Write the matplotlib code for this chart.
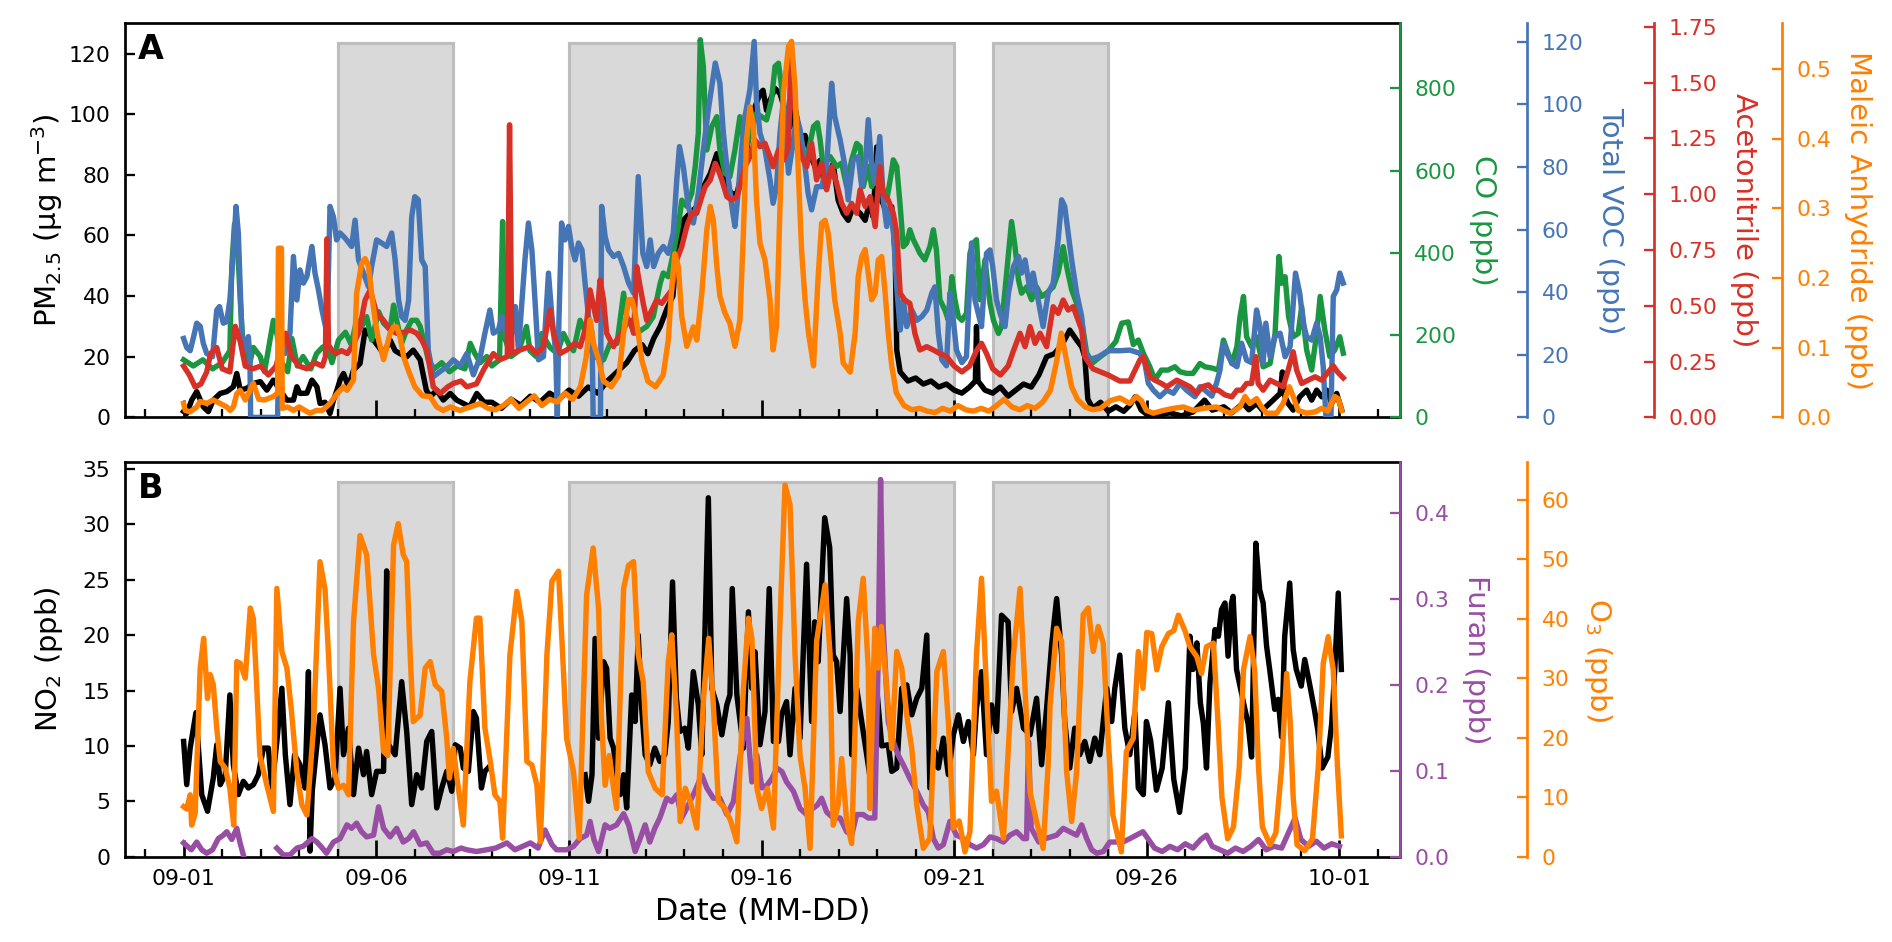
import numpy as np
import pandas as pd
import matplotlib
matplotlib.use('Agg')
import matplotlib.pyplot as plt
import matplotlib.dates as mdates

nan = np.nan
start = pd.Timestamp('2023-09-01')

# ---- panel A : (days after 09-01, value) ----
pm25 = [(0.0, 2), (0.08, 1.3), (0.21, 5.7), (0.34, 8.5), (0.51, 3.5), (0.64, 1.9), (0.77, 5.7), (0.95, 7.9),
        (1.12, 8.5), (1.29, 10.1), (1.38, 14.5), (1.47, 9), (1.64, 9.6), (1.81, 11.2), (1.99, 11.8), (2.16, 9),
        (2.33, 12.3), (2.5, 9), (2.68, 5.7), (2.85, 5.7), (2.94, 10.1), (3.02, 7.9), (3.2, 8), (3.33, 12.3),
        (3.46, 10.1), (3.54, 4.6), (3.67, 5), (3.8, 1.3), (3.89, 5.7), (3.98, 9), (4.06, 12.3), (4.15, 14.5),
        (4.28, 10.1), (4.41, 15.6), (4.58, 17.8), (4.71, 28.8), (4.8, 27.7), (4.93, 25.5), (5.06, 23.3),
        (5.19, 21), (5.36, 25.5), (5.49, 22), (5.62, 21), (5.79, 20), (5.96, 22.2), (6.14, 19), (6.3, 9),
        (6.4, 6.8), (6.57, 9), (6.74, 5.7), (6.92, 7.9), (7.09, 5.7), (7.26, 4.6), (7.43, 3.5), (7.61, 7.9),
        (7.8, 5), (8.0, 5), (8.25, 3), (8.5, 6), (8.75, 4), (9.0, 7), (9.25, 5), (9.5, 8), (9.75, 6), (10.0, 9),
        (10.25, 7), (10.5, 10), (10.75, 8), (11.0, 12), (11.25, 15), (11.5, 18), (11.7, 22), (11.9, 24),
        (12.05, 21), (12.2, 26), (12.37, 30), (12.55, 36), (12.7, 40), (12.8, 55), (12.97, 65), (13.14, 67.3),
        (13.32, 69.5), (13.49, 76), (13.67, 80.4), (13.84, 87), (13.97, 82.6), (14.1, 76), (14.23, 73.8),
        (14.36, 73.8), (14.49, 80.4), (14.61, 88.1), (14.7, 94.7), (14.83, 102.4), (14.96, 106.8),
        (15.04, 107.9), (15.13, 101.3), (15.22, 104.6), (15.35, 108.5), (15.48, 106.8), (15.61, 101.3),
        (15.74, 95.8), (15.87, 102.4), (16.0, 92.5), (16.13, 93), (16.26, 87), (16.39, 82.6), (16.52, 84.8),
        (16.65, 76), (16.86, 83.7), (16.99, 71.6), (17.12, 67.3), (17.25, 65), (17.38, 69.5), (17.56, 67.3),
        (17.69, 65), (17.82, 71.6), (17.9, 66), (17.99, 89.2), (18.05, 72), (18.12, 71.6), (18.25, 67.3),
        (18.38, 69.5), (18.47, 54), (18.51, 22.2), (18.6, 15), (18.8, 12), (19.0, 13), (19.2, 11), (19.4, 12),
        (19.6, 10), (19.8, 11), (20.0, 9), (20.2, 8), (20.4, 10), (20.55, 12), (20.58, 30), (20.62, 12),
        (20.8, 9), (21.0, 8), (21.2, 10), (21.4, 7), (21.6, 9), (21.8, 11), (22.0, 10), (22.2, 14), (22.4, 20),
        (22.6, 21), (22.8, 24), (23.0, 28.8), (23.18, 25.5), (23.31, 23.3), (23.39, 20), (23.47, 6), (23.6, 3),
        (23.8, 5), (24.0, 2), (24.2, 3.5), (24.4, 2), (24.56, 4), (24.7, 6.8), (24.85, 2.5), (25.0, 1),
        (25.3, 0.8), (25.6, 1.5), (25.9, 0.5), (26.2, 1.8), (26.5, 5.7), (26.7, 2.4), (27.0, 3.5), (27.2, 1.5),
        (27.5, 4.6), (27.65, 2.5), (27.85, 4.6), (28.0, 2.4), (28.28, 5.7), (28.46, 7.9), (28.52, 15),
        (28.58, 7), (28.67, 4.6), (28.8, 2.4), (28.97, 6.8), (29.15, 9), (29.28, 5.7), (29.41, 9), (29.54, 6.8),
        (29.67, 9), (29.8, 4.6), (29.93, 7.9), (30.06, 2.4)]

co = [(0, 140), (0.25, 125), (0.5, 140), (0.75, 118), (1.0, 133), (1.2, 162), (1.25, 367), (1.32, 470),
      (1.38, 456), (1.47, 286), (1.55, 162), (1.7, 125), (1.81, 170), (1.99, 148), (2.1, 111), (2.33, 236),
      (2.42, 204), (2.55, 133), (2.7, 111), (2.81, 192), (2.95, 125), (3.1, 148), (3.3, 118), (3.45, 155),
      (3.6, 170), (3.72, 177), (3.85, 133), (4.02, 188), (4.2, 207), (4.35, 177), (4.49, 236), (4.62, 221),
      (4.75, 245), (4.88, 188), (5.06, 257), (5.19, 229), (5.36, 213), (5.45, 273), (5.53, 236), (5.66, 180),
      (5.79, 213), (5.92, 236), (6.05, 236), (6.14, 221), (6.27, 172), (6.35, 140), (6.5, 118), (6.7, 133),
      (6.9, 111), (7.1, 125), (7.3, 118), (7.44, 180), (7.56, 155), (7.7, 133), (7.87, 148), (8.0, 125),
      (8.2, 140), (8.28, 476), (8.34, 192), (8.5, 148), (8.7, 162), (8.9, 221), (8.99, 162), (9.15, 148),
      (9.3, 204), (9.51, 170), (9.7, 155), (9.86, 204), (10.0, 177), (10.12, 162), (10.29, 236), (10.45, 204),
      (10.64, 148), (10.9, 140), (11.07, 180), (11.25, 180), (11.42, 302), (11.5, 245), (11.63, 221),
      (11.76, 204), (11.89, 213), (12.02, 221), (12.19, 245), (12.37, 326), (12.45, 351), (12.58, 342),
      (12.71, 399), (12.84, 464), (12.93, 528), (13.06, 513), (13.19, 545), (13.28, 610), (13.36, 691),
      (13.41, 918), (13.49, 853), (13.58, 650), (13.71, 707), (13.84, 731), (13.92, 650), (14.05, 593),
      (14.18, 585), (14.31, 650), (14.44, 731), (14.53, 675), (14.61, 658), (14.75, 707), (14.87, 739),
      (15.0, 731), (15.13, 723), (15.26, 772), (15.35, 853), (15.44, 861), (15.52, 804), (15.61, 731),
      (15.7, 658), (15.85, 664), (16.0, 642), (16.17, 626), (16.35, 707), (16.45, 716), (16.52, 675),
      (16.6, 610), (16.78, 634), (16.95, 610), (17.08, 618), (17.21, 561), (17.34, 626), (17.47, 666),
      (17.56, 658), (17.64, 561), (17.77, 610), (17.86, 561), (17.99, 593), (18.12, 561), (18.25, 528),
      (18.34, 577), (18.42, 626), (18.51, 610), (18.6, 513), (18.68, 415), (18.77, 424), (18.85, 456),
      (18.94, 432), (19.03, 415), (19.11, 399), (19.24, 383), (19.37, 415), (19.46, 456), (19.54, 407),
      (19.63, 286), (19.76, 261), (19.85, 236), (19.94, 342), (20.02, 286), (20.11, 245), (20.2, 236),
      (20.32, 253), (20.41, 399), (20.5, 424), (20.58, 432), (20.67, 286), (20.8, 383), (20.93, 277),
      (21.02, 236), (21.15, 204), (21.23, 221), (21.32, 310), (21.41, 399), (21.49, 476), (21.58, 415),
      (21.67, 334), (21.75, 302), (21.88, 317), (22.01, 286), (22.14, 317), (22.27, 294), (22.4, 302),
      (22.57, 317), (22.7, 351), (22.83, 415), (22.92, 367), (23.05, 310), (23.18, 277), (23.31, 236),
      (23.44, 156), (23.6, 133), (23.8, 148), (24.0, 162), (24.2, 185), (24.35, 229), (24.52, 232),
      (24.65, 177), (24.78, 188), (24.91, 156), (25.08, 123), (25.21, 91), (25.38, 115), (25.55, 115),
      (25.73, 123), (25.86, 111), (26.03, 107), (26.2, 107), (26.38, 131), (26.51, 123), (26.69, 120),
      (26.86, 115), (26.99, 188), (27.08, 164), (27.21, 131), (27.34, 172), (27.42, 245), (27.51, 294),
      (27.59, 196), (27.72, 172), (27.85, 196), (28.02, 123), (28.2, 131), (28.33, 204), (28.43, 391),
      (28.5, 326), (28.59, 342), (28.68, 245), (28.8, 196), (28.93, 204), (29.02, 269), (29.15, 164),
      (29.28, 115), (29.41, 204), (29.5, 294), (29.62, 213), (29.75, 148), (29.88, 164), (30.01, 196),
      (30.1, 156)]

voc = [(0.0, 25.2), (0.08, 22.3), (0.17, 21.3), (0.26, 25.8), (0.34, 30.1), (0.43, 29.1), (0.51, 23.7),
       (0.6, 20.4), (0.75, 19.4), (0.86, 34.3), (0.93, 35.4), (1.03, 30.1), (1.12, 30.6), (1.2, 37.5),
       (1.29, 52.4), (1.36, 67.4), (1.42, 58.9), (1.51, 26.9), (1.6, 21.5), (1.68, 25.8), (1.72, 19.4),
       (1.74, 0), (2.44, 0), (2.47, 24.3), (2.5, 26.9), (2.63, 20.4), (2.76, 26.9), (2.85, 51.4), (2.94, 37.5),
       (3.02, 47.1), (3.11, 42.9), (3.2, 45), (3.33, 54.6), (3.41, 46.1), (3.5, 40.7), (3.59, 34.3),
       (3.72, 26.9), (3.8, 67.4), (3.89, 64), (3.97, 56.7), (4.06, 58.9), (4.15, 57.8), (4.23, 56.7),
       (4.36, 54.6), (4.45, 63), (4.54, 50.3), (4.67, 46.1), (4.8, 41.7), (4.88, 48.2), (5.01, 56.7),
       (5.14, 55.7), (5.27, 54.6), (5.4, 58.9), (5.49, 50.3), (5.58, 37.5), (5.66, 32.2), (5.75, 31),
       (5.84, 37.5), (5.92, 64), (6.0, 70.5), (6.09, 69.5), (6.18, 50.3), (6.27, 48.2), (6.35, 21.5),
       (6.48, 13), (6.65, 14.6), (6.83, 16.2), (7.0, 18.4), (7.18, 16.5), (7.35, 20.4), (7.52, 13.6),
       (7.7, 19.4), (7.82, 26.9), (7.95, 34.3), (8.04, 26.9), (8.17, 27.9), (8.26, 32.2), (8.4, 25.2),
       (8.47, 22.6), (8.61, 35.4), (8.69, 21.5), (8.86, 50.4), (8.95, 62.1), (9.04, 53.4), (9.12, 37.5),
       (9.21, 18.4), (9.34, 19.4), (9.47, 46.1), (9.56, 32.2), (9.66, 20.4), (9.7, 0), (9.74, 30),
       (9.81, 62.1), (9.9, 56.7), (9.99, 61), (10.07, 54.6), (10.16, 50.3), (10.25, 55.7), (10.34, 53.5),
       (10.42, 42.9), (10.51, 32.2), (10.6, 26.9), (10.63, 0), (10.82, 0), (10.85, 67.4), (10.94, 57.8),
       (11.03, 53.5), (11.16, 51.4), (11.29, 52.4), (11.42, 48.2), (11.55, 42.9), (11.68, 39.7), (11.8, 76.9),
       (11.92, 52.4), (12.02, 48.2), (12.11, 56.7), (12.2, 48.2), (12.32, 52.4), (12.45, 54.6), (12.58, 52.4),
       (12.71, 58.9), (12.8, 75.9), (12.87, 86.5), (12.97, 80.1), (13.1, 67.4), (13.23, 62.1), (13.36, 71.6),
       (13.49, 85.5), (13.62, 98.3), (13.8, 113.2), (13.92, 106.7), (14.01, 90.8), (14.1, 80.1), (14.23, 67.4),
       (14.31, 61), (14.4, 72.8), (14.49, 86.5), (14.57, 96.1), (14.7, 104.8), (14.81, 120.1), (14.87, 101.5),
       (14.96, 90.8), (15.09, 85.5), (15.22, 75.9), (15.3, 68.4), (15.39, 73.7), (15.48, 90.8), (15.57, 101.5),
       (15.7, 78), (15.83, 88.7), (15.91, 96.1), (16.0, 92), (16.08, 85.5), (16.21, 71.6), (16.3, 66.3),
       (16.43, 73.7), (16.56, 73.7), (16.69, 80.1), (16.82, 106.7), (16.9, 96.1), (17.04, 88.7), (17.17, 80.1),
       (17.25, 69.5), (17.38, 82.3), (17.51, 83.3), (17.6, 73.7), (17.69, 80.1), (17.77, 95.1), (17.86, 80.1),
       (17.95, 74.8), (18.07, 89.7), (18.16, 69.5), (18.25, 61), (18.34, 67.4), (18.42, 59.9), (18.51, 41.7),
       (18.6, 27.9), (18.68, 37.5), (18.77, 29), (18.9, 34.3), (19.03, 31), (19.16, 32.2), (19.29, 34.3),
       (19.42, 39.7), (19.5, 41.7), (19.59, 26.9), (19.68, 18.4), (19.8, 16.5), (19.89, 39.7), (19.98, 31),
       (20.06, 21.5), (20.2, 17.5), (20.32, 19.4), (20.45, 55.7), (20.54, 37.5), (20.71, 29), (20.84, 52.4),
       (20.93, 53.5), (21.0, 48.2), (21.1, 37.5), (21.19, 33.3), (21.32, 29), (21.41, 39.7), (21.54, 48.2),
       (21.67, 51.4), (21.75, 46.1), (21.84, 50.3), (21.97, 40.7), (22.05, 46.1), (22.18, 37.5), (22.31, 29),
       (22.44, 39.7), (22.57, 42.9), (22.7, 56.7), (22.79, 69.5), (22.87, 67.4), (22.96, 58.9), (23.05, 50.3),
       (23.18, 39.7), (23.31, 32.2), (23.39, 21.5), (23.5, 18.4), (23.75, 19.4), (24.0, 21.3), (24.3, 21.3),
       (24.56, 21.5), (24.82, 20.5), (24.95, 17.3), (25.04, 10.9), (25.17, 8.7), (25.34, 6.6), (25.52, 8.7),
       (25.69, 7.7), (25.86, 10.9), (26.03, 8.7), (26.25, 6.6), (26.38, 9.8), (26.51, 8.7), (26.69, 6.8),
       (26.81, 10.9), (26.9, 15.1), (26.99, 23.7), (27.08, 20.5), (27.21, 17.3), (27.34, 16.2), (27.46, 23.7),
       (27.59, 18.3), (27.72, 17.5), (27.85, 34.3), (27.94, 29), (28.02, 17.3), (28.09, 30.1), (28.2, 19.4),
       (28.33, 25.8), (28.46, 26.9), (28.59, 19.4), (28.72, 22.6), (28.86, 46.1), (28.97, 39.7), (29.06, 30.1),
       (29.15, 25.8), (29.28, 24.7), (29.41, 30.1), (29.5, 25.8), (29.58, 16.2), (29.65, 0), (29.78, 0),
       (29.84, 38.6), (29.93, 40.7), (30.01, 46.1), (30.1, 42.9)]

acetonitrile = [(0, 0.23), (0.15, 0.19), (0.3, 0.136), (0.45, 0.15), (0.6, 0.204), (0.7, 0.286), (0.86, 0.313),
                (1.0, 0.218), (1.2, 0.204), (1.34, 0.408), (1.47, 0.34), (1.6, 0.23), (1.8, 0.218), (2.0, 0.23),
                (2.2, 0.19), (2.4, 0.23), (2.5, 0.299), (2.65, 0.377), (2.8, 0.272), (3.0, 0.23), (3.2, 0.218),
                (3.4, 0.245), (3.6, 0.23), (3.68, 0.272), (3.72, 0.80), (3.76, 0.326), (3.85, 0.299),
                (3.95, 0.286), (4.1, 0.299), (4.25, 0.286), (4.4, 0.326), (4.55, 0.381), (4.71, 0.526),
                (4.84, 0.571), (5.01, 0.466), (5.19, 0.435), (5.36, 0.392), (5.53, 0.377), (5.71, 0.381),
                (5.88, 0.392), (6.05, 0.377), (6.18, 0.347), (6.31, 0.302), (6.48, 0.137), (6.66, 0.107),
                (6.85, 0.136), (7.0, 0.152), (7.2, 0.163), (7.35, 0.137), (7.6, 0.15), (7.8, 0.218),
                (8.04, 0.286), (8.2, 0.258), (8.4, 0.272), (8.46, 1.311), (8.52, 0.286), (8.73, 0.302),
                (8.99, 0.317), (9.16, 0.286), (9.34, 0.317), (9.51, 0.481), (9.6, 0.377), (9.77, 0.286),
                (9.94, 0.302), (10.16, 0.332), (10.29, 0.317), (10.45, 0.408), (10.55, 0.571), (10.64, 0.496),
                (10.72, 0.435), (10.81, 0.616), (10.9, 0.526), (10.98, 0.377), (11.16, 0.317), (11.24, 0.347),
                (11.37, 0.377), (11.5, 0.422), (11.59, 0.435), (11.68, 0.377), (11.76, 0.676), (11.85, 0.585),
                (11.93, 0.511), (12.02, 0.435), (12.15, 0.481), (12.28, 0.526), (12.41, 0.511), (12.54, 0.541),
                (12.67, 0.571), (12.8, 0.706), (12.93, 0.766), (13.06, 0.855), (13.19, 0.915), (13.32, 0.915),
                (13.45, 0.989), (13.54, 1.034), (13.67, 1.064), (13.8, 1.138), (13.88, 1.108), (13.97, 1.064),
                (14.1, 0.989), (14.23, 0.974), (14.36, 0.989), (14.44, 1.034), (14.57, 1.123), (14.7, 1.168),
                (14.83, 1.243), (14.96, 1.213), (15.09, 1.228), (15.22, 1.168), (15.3, 1.123), (15.44, 1.198),
                (15.57, 1.153), (15.7, 1.213), (15.77, 1.659), (15.82, 1.496), (15.93, 1.243), (16.04, 1.168),
                (16.17, 1.123), (16.3, 1.228), (16.43, 1.064), (16.56, 1.138), (16.69, 1.02), (16.82, 1.123),
                (16.95, 1.049), (17.08, 0.959), (17.21, 0.915), (17.34, 0.959), (17.47, 0.915), (17.56, 1.02),
                (17.69, 0.945), (17.82, 0.989), (17.95, 0.855), (18.07, 1.123), (18.16, 1.004), (18.29, 0.974),
                (18.42, 0.915), (18.51, 0.826), (18.6, 0.556), (18.72, 0.526), (18.85, 0.511), (18.98, 0.377),
                (19.11, 0.302), (19.29, 0.317), (19.46, 0.302), (19.63, 0.286), (19.81, 0.272), (20.0, 0.23),
                (20.2, 0.204), (20.4, 0.23), (20.58, 0.299), (20.71, 0.332), (20.84, 0.286), (21.0, 0.218),
                (21.2, 0.19), (21.4, 0.23), (21.54, 0.299), (21.71, 0.377), (21.84, 0.317), (21.97, 0.407),
                (22.1, 0.332), (22.23, 0.377), (22.4, 0.317), (22.57, 0.496), (22.7, 0.466), (22.83, 0.526),
                (22.96, 0.481), (23.09, 0.496), (23.22, 0.435), (23.31, 0.392), (23.39, 0.272), (23.6, 0.218),
                (23.8, 0.204), (24.0, 0.19), (24.3, 0.163), (24.56, 0.163), (24.82, 0.257), (24.91, 0.272),
                (24.99, 0.227), (25.08, 0.182), (25.21, 0.167), (25.38, 0.152), (25.52, 0.137), (25.65, 0.152),
                (25.78, 0.167), (25.95, 0.152), (26.12, 0.137), (26.3, 0.107), (26.43, 0.137), (26.6, 0.146),
                (26.73, 0.122), (26.86, 0.122), (27.03, 0.101), (27.21, 0.092), (27.34, 0.122), (27.46, 0.122),
                (27.59, 0.152), (27.72, 0.152), (27.83, 0.272), (27.89, 0.152), (28.02, 0.122), (28.2, 0.167),
                (28.37, 0.152), (28.54, 0.137), (28.67, 0.212), (28.8, 0.294), (28.89, 0.212), (29.02, 0.152),
                (29.19, 0.167), (29.37, 0.182), (29.54, 0.167), (29.84, 0.231), (29.95, 0.204), (30.1, 0.177)]

maleic = [(0, 0.020), (0.04, 0.010), (0.17, 0.008), (0.34, 0.015), (0.43, 0.023), (0.6, 0.020), (0.77, 0.025),
          (0.95, 0.020), (1.12, 0.015), (1.21, 0.010), (1.29, 0.015), (1.38, 0.034), (1.47, 0.039), (1.6, 0.025),
          (1.68, 0.034), (1.81, 0.049), (1.95, 0.026), (2.1, 0.025), (2.33, 0.030), (2.44, 0.035), (2.46, 0.243),
          (2.54, 0.243), (2.56, 0.013), (2.7, 0.015), (2.85, 0.010), (3.0, 0.015), (3.15, 0.010), (3.28, 0.006),
          (3.45, 0.010), (3.6, 0.010), (3.8, 0.020), (3.98, 0.034), (4.15, 0.044), (4.24, 0.039), (4.41, 0.054),
          (4.49, 0.178), (4.62, 0.221), (4.71, 0.228), (4.8, 0.217), (4.88, 0.178), (4.97, 0.140), (5.06, 0.111),
          (5.19, 0.083), (5.36, 0.121), (5.45, 0.130), (5.53, 0.130), (5.62, 0.116), (5.71, 0.087), (5.85, 0.065),
          (6.0, 0.044), (6.2, 0.031), (6.4, 0.030), (6.57, 0.015), (6.74, 0.010), (6.92, 0.015), (7.18, 0.010),
          (7.43, 0.015), (7.7, 0.020), (7.9, 0.013), (8.1, 0.011), (8.3, 0.017), (8.5, 0.026), (8.7, 0.013),
          (8.9, 0.022), (9.1, 0.031), (9.3, 0.017), (9.5, 0.026), (9.7, 0.022), (9.9, 0.035), (10.1, 0.026),
          (10.3, 0.044), (10.45, 0.087), (10.55, 0.140), (10.64, 0.106), (10.77, 0.083), (10.9, 0.052),
          (11.1, 0.044), (11.3, 0.061), (11.42, 0.121), (11.55, 0.169), (11.63, 0.169), (11.72, 0.150),
          (11.8, 0.121), (11.89, 0.083), (12.05, 0.052), (12.25, 0.044), (12.45, 0.061), (12.58, 0.111),
          (12.67, 0.187), (12.75, 0.235), (12.84, 0.217), (12.93, 0.145), (13.06, 0.102), (13.23, 0.130),
          (13.32, 0.111), (13.45, 0.178), (13.58, 0.269), (13.67, 0.303), (13.75, 0.283), (13.84, 0.217),
          (13.92, 0.174), (14.05, 0.150), (14.18, 0.135), (14.31, 0.102), (14.44, 0.140), (14.53, 0.265),
          (14.61, 0.398), (14.7, 0.446), (14.79, 0.418), (14.87, 0.312), (14.96, 0.250), (15.09, 0.226),
          (15.22, 0.169), (15.3, 0.097), (15.39, 0.131), (15.48, 0.303), (15.57, 0.466), (15.7, 0.533),
          (15.78, 0.540), (15.87, 0.475), (15.95, 0.360), (16.04, 0.240), (16.13, 0.169), (16.22, 0.121),
          (16.35, 0.074), (16.47, 0.202), (16.56, 0.279), (16.65, 0.283), (16.73, 0.265), (16.82, 0.217),
          (16.9, 0.169), (17.04, 0.121), (17.12, 0.078), (17.3, 0.065), (17.43, 0.121), (17.51, 0.202),
          (17.6, 0.231), (17.69, 0.241), (17.77, 0.207), (17.86, 0.169), (17.95, 0.178), (18.03, 0.226),
          (18.12, 0.231), (18.21, 0.178), (18.29, 0.121), (18.38, 0.074), (18.5, 0.035), (18.7, 0.017),
          (18.9, 0.011), (19.1, 0.013), (19.3, 0.009), (19.5, 0.007), (19.7, 0.013), (19.9, 0.009), (20.1, 0.017),
          (20.3, 0.011), (20.5, 0.009), (20.7, 0.013), (20.9, 0.009), (21.1, 0.017), (21.3, 0.026), (21.5, 0.015),
          (21.7, 0.011), (21.9, 0.017), (22.1, 0.013), (22.3, 0.022), (22.5, 0.039), (22.65, 0.078),
          (22.78, 0.121), (22.9, 0.087), (23.05, 0.044), (23.2, 0.026), (23.4, 0.015), (23.6, 0.011),
          (23.8, 0.013), (24.05, 0.024), (24.3, 0.028), (24.56, 0.020), (24.73, 0.030), (24.86, 0.024),
          (24.99, 0.010), (25.17, 0.006), (25.43, 0.010), (25.69, 0.013), (25.95, 0.015), (26.2, 0.010),
          (26.47, 0.013), (26.81, 0.015), (26.99, 0.010), (27.16, 0.006), (27.42, 0.015), (27.55, 0.030),
          (27.68, 0.020), (27.85, 0.027), (27.98, 0.015), (28.11, 0.006), (28.37, 0.006), (28.54, 0.020),
          (28.7, 0.044), (28.8, 0.030), (28.93, 0.010), (29.15, 0.006), (29.37, 0.008), (29.54, 0.013),
          (29.7, 0.009), (29.88, 0.030), (29.97, 0.027), (30.06, 0.010)]

# ---- panel B ----
no2 = [(0.0, 10.4), (0.08, 6.5), (0.17, 9.8), (0.32, 13), (0.47, 5.6), (0.62, 4.1), (0.77, 7.1), (0.86, 10.1),
       (0.95, 6.5), (1.08, 7.4), (1.2, 14.6), (1.29, 8.3), (1.42, 5.6), (1.55, 6.8), (1.68, 6.2), (1.81, 6.5),
       (1.94, 7.4), (2.07, 9.8), (2.2, 9.8), (2.29, 6.2), (2.42, 10.4), (2.55, 15.2), (2.64, 9.2), (2.76, 4.7),
       (2.88, 9.2), (3.02, 8.3), (3.15, 6.2), (3.24, 16.7), (3.28, 0.5), (3.34, 6), (3.46, 10.1), (3.54, 12.8),
       (3.67, 10.1), (3.8, 6.2), (3.93, 7.1), (4.06, 15.2), (4.15, 9.2), (4.28, 11.6), (4.41, 5.6), (4.54, 9.8),
       (4.67, 7.4), (4.75, 9.5), (4.88, 5.6), (5.01, 7.7), (5.19, 7.7), (5.27, 25.8), (5.32, 10.1), (5.49, 9.2),
       (5.66, 15.8), (5.79, 11.3), (5.92, 4.7), (6.05, 7.4), (6.18, 6.2), (6.31, 10.4), (6.44, 11.3), (6.57, 4.4),
       (6.7, 6.2), (6.83, 7.7), (6.96, 5.9), (7.05, 10.1), (7.18, 9.8), (7.26, 8), (7.39, 7.7), (7.52, 13.1),
       (7.6, 12.5), (7.73, 6.2), (7.82, 7.7), (7.9, 8), (7.95, nan), (10.38, nan), (10.42, 7.4), (10.51, 5),
       (10.6, 7.4), (10.68, 19.7), (10.77, 10.7), (10.9, 17.6), (10.98, 17), (11.07, 10.7), (11.16, 9.8),
       (11.24, 7.4), (11.33, 5.6), (11.42, 7.4), (11.5, 4.4), (11.63, 14.6), (11.72, 12.2), (11.8, 20),
       (11.89, 13.4), (11.98, 9.2), (12.1, 8.3), (12.23, 9.8), (12.36, 8.6), (12.49, 9.2), (12.58, 12.2),
       (12.69, 24.8), (12.79, 14.3), (12.88, 11.3), (13.01, 11.6), (13.1, 9.8), (13.23, 16.7), (13.36, 13.7),
       (13.45, 9.2), (13.62, 32.4), (13.71, 15.2), (13.84, 13.7), (13.97, 11), (14.1, 13.7), (14.18, 14.6),
       (14.24, 24.2), (14.36, 14.6), (14.53, 9.8), (14.66, 22.1), (14.75, 15.2), (14.83, 18.5), (14.96, 10.1),
       (15.09, 13.1), (15.2, 24.2), (15.31, 10.4), (15.44, 10.4), (15.52, 12.8), (15.65, 14), (15.74, 9.2),
       (15.87, 15.2), (16.0, 10.7), (16.17, 26.4), (16.3, 12.2), (16.38, 21.2), (16.47, 17.6), (16.64, 30.6),
       (16.77, 27.9), (16.86, 18.2), (16.95, 17.6), (17.04, 13.1), (17.12, 17.9), (17.21, 23.3), (17.3, 18.2),
       (17.34, 9.2), (17.47, 15.2), (17.6, 12.2), (17.73, 9.2), (17.86, 6.2), (17.99, 15.2), (18.12, 10),
       (18.29, 10.1), (18.38, 7.7), (18.51, 8), (18.64, 15.2), (18.77, 15.5), (18.9, 12.8), (19.03, 14.3),
       (19.16, 15.2), (19.29, 20), (19.37, 6.2), (19.5, 9.5), (19.59, 8), (19.72, 10.7), (19.85, 7.4),
       (19.98, 11), (20.11, 12.8), (20.24, 10.4), (20.37, 12.2), (20.5, 9.2), (20.58, 13.4), (20.71, 16.7),
       (20.84, 9.2), (20.97, 13.7), (21.1, 11.3), (21.23, 21.8), (21.4, 21.2), (21.49, 13.1), (21.62, 15.2),
       (21.8, 11.6), (21.97, 11), (22.14, 14.3), (22.27, 8.3), (22.4, 13.4), (22.53, 19.1), (22.66, 23.3),
       (22.79, 18.2), (22.87, 12.2), (23.0, 8), (23.13, 11.6), (23.26, 9.2), (23.39, 10.4), (23.52, 8.6),
       (23.65, 10.7), (23.78, 9.2), (23.96, 15.2), (24.09, 12.2), (24.17, 15.2), (24.3, 18.2), (24.43, 11.6),
       (24.56, 9.2), (24.69, 13), (24.78, 6.2), (24.91, 5.6), (24.99, 12.2), (25.1, 10.5), (25.25, 6),
       (25.4, 8), (25.56, 13.9), (25.7, 7), (25.85, 4), (26.0, 8), (26.12, 19.9), (26.2, 16.9), (26.3, 19.3),
       (26.39, 13.9), (26.47, 12), (26.55, 8), (26.64, 15.7), (26.77, 20.5), (26.86, 19.9), (26.94, 22.3),
       (27.03, 22.9), (27.11, 18.1), (27.2, 22.9), (27.24, 23.5), (27.33, 16.9), (27.42, 15.4), (27.51, 13.9),
       (27.63, 12), (27.72, 9), (27.83, 28.3), (27.93, 24.1), (28.02, 22.9), (28.11, 19), (28.19, 16.9),
       (28.32, 13.3), (28.41, 14.2), (28.5, 10.8), (28.58, 19.9), (28.71, 24.7), (28.8, 18.7), (28.88, 16.9),
       (29.01, 15.4), (29.1, 17.8), (29.22, 15.7), (29.35, 13.3), (29.44, 11.4), (29.55, 8), (29.7, 9),
       (29.8, 12), (29.88, 16.9), (29.97, 23.8), (30.05, 16.9)]

furan = [(0.0, 0.016), (0.1, 0.012), (0.2, 0.008), (0.34, 0.017), (0.47, 0.008), (0.6, 0.004), (0.75, 0.008),
         (0.9, 0.021), (1.03, 0.025), (1.12, 0.029), (1.25, 0.02), (1.38, 0.033), (1.46, 0.017), (1.55, 0.002),
         (1.6, nan), (2.38, nan), (2.42, 0.01), (2.59, 0.002), (2.76, 0.002), (2.94, 0.01), (3.1, 0.012),
         (3.33, 0.021), (3.46, 0.017), (3.6, 0.01), (3.71, 0.004), (3.89, 0.017), (4.06, 0.021), (4.24, 0.037),
         (4.36, 0.033), (4.49, 0.039), (4.62, 0.029), (4.75, 0.023), (4.93, 0.025), (5.06, 0.058), (5.19, 0.033),
         (5.36, 0.023), (5.53, 0.033), (5.7, 0.017), (5.84, 0.021), (5.97, 0.029), (6.14, 0.014), (6.31, 0.016),
         (6.48, 0.004), (6.65, 0.004), (6.83, 0.008), (7.0, 0.006), (7.2, 0.01), (7.35, 0.008), (7.6, 0.006),
         (7.87, 0.008), (8.1, 0.01), (8.39, 0.016), (8.6, 0.008), (8.8, 0.012), (9.0, 0.016), (9.2, 0.01),
         (9.38, 0.031), (9.56, 0.014), (9.68, 0.008), (9.94, 0.008), (10.12, 0.012), (10.29, 0.021),
         (10.46, 0.025), (10.55, 0.041), (10.65, 0.02), (10.77, 0.006), (10.94, 0.037), (11.06, 0.033),
         (11.24, 0.037), (11.42, 0.05), (11.55, 0.037), (11.72, 0.006), (11.85, 0.021), (11.98, 0.037),
         (12.1, 0.017), (12.23, 0.033), (12.36, 0.045), (12.54, 0.068), (12.67, 0.064), (12.8, 0.072),
         (12.93, 0.045), (13.1, 0.06), (13.27, 0.076), (13.45, 0.095), (13.58, 0.08), (13.75, 0.068),
         (13.92, 0.068), (14.1, 0.049), (14.27, 0.064), (14.45, 0.118), (14.62, 0.161), (14.75, 0.087),
         (14.88, 0.118), (15.01, 0.08), (15.14, 0.083), (15.27, 0.091), (15.4, 0.103), (15.53, 0.099),
         (15.65, 0.087), (15.83, 0.076), (16.0, 0.056), (16.17, 0.049), (16.3, 0.055), (16.45, 0.06),
         (16.56, 0.068), (16.69, 0.052), (16.86, 0.045), (17.04, 0.045), (17.21, 0.029), (17.34, 0.025),
         (17.47, 0.049), (17.64, 0.049), (17.77, 0.045), (17.94, 0.045), (18.03, 0.235), (18.09, 0.439),
         (18.16, 0.266), (18.29, 0.157), (18.42, 0.134), (18.55, 0.118), (18.68, 0.107), (18.85, 0.091),
         (19.03, 0.076), (19.2, 0.06), (19.33, 0.052), (19.46, 0.021), (19.59, 0.01), (19.72, 0.014),
         (19.89, 0.041), (20.06, 0.025), (20.24, 0.021), (20.41, 0.014), (20.58, 0.01), (20.76, 0.014),
         (20.93, 0.023), (21.1, 0.021), (21.28, 0.017), (21.45, 0.025), (21.62, 0.029), (21.8, 0.021),
         (21.88, 0.021), (21.93, 0.134), (22.0, 0.033), (22.2, 0.017), (22.37, 0.021), (22.66, 0.025),
         (22.83, 0.033), (23.0, 0.029), (23.18, 0.025), (23.31, 0.037), (23.44, 0.021), (23.57, 0.008),
         (23.7, 0.004), (23.87, 0.006), (24.04, 0.017), (24.2, 0.017), (24.38, 0.017), (24.56, 0.021),
         (24.73, 0.025), (24.9, 0.029), (25.03, 0.021), (25.2, 0.01), (25.4, 0.006), (25.6, 0.012), (25.8, 0.008),
         (26.0, 0.015), (26.2, 0.01), (26.4, 0.02), (26.55, 0.025), (26.7, 0.012), (26.9, 0.008), (27.1, 0.004),
         (27.3, 0.01), (27.5, 0.006), (27.7, 0.012), (27.9, 0.02), (28.1, 0.008), (28.3, 0.012), (28.5, 0.01),
         (28.7, 0.03), (28.85, 0.045), (29.0, 0.02), (29.2, 0.012), (29.4, 0.018), (29.6, 0.01), (29.8, 0.015),
         (30.0, 0.012)]

o3 = [(0.0, 8.4), (0.08, 8), (0.17, 10.4), (0.21, 5.3), (0.3, 7.3), (0.43, 31.7), (0.52, 36.7), (0.62, 26.6),
      (0.69, 30.6), (0.77, 28.9), (0.86, 21.6), (0.95, 16), (1.08, 14.9), (1.2, 11.5), (1.3, 5.3), (1.38, 32.8),
      (1.47, 32.5), (1.6, 30), (1.73, 41.8), (1.81, 40), (1.9, 28.3), (1.98, 17), (2.16, 12), (2.33, 7.6),
      (2.42, 45.1), (2.55, 34.5), (2.68, 31.7), (2.8, 24.4), (2.94, 14.3), (3.07, 8.7), (3.2, 7), (3.37, 21.6),
      (3.54, 49.6), (3.67, 45), (3.76, 34), (3.89, 14.9), (4.02, 11.5), (4.15, 12), (4.28, 10.4), (4.41, 39.5),
      (4.58, 54), (4.75, 50.8), (4.93, 34), (5.06, 28.3), (5.19, 17.7), (5.3, 17), (5.45, 52.4), (5.57, 56),
      (5.7, 50.8), (5.79, 49.6), (5.88, 34), (5.96, 22.7), (6.14, 23.8), (6.27, 31.7), (6.4, 32.8),
      (6.53, 28.9), (6.7, 27.8), (6.83, 19.9), (6.9, 13.2), (7.0, 18.2), (7.1, 13), (7.26, 5.3), (7.43, 29.4),
      (7.6, 40.1), (7.69, 40.1), (7.82, 21.6), (7.96, 16), (8.08, 10.4), (8.21, 9.3), (8.28, 3.1), (8.47, 34),
      (8.65, 44.6), (8.78, 39.5), (8.91, 16), (9.04, 15.4), (9.17, 12), (9.26, 2.5), (9.43, 34), (9.56, 46.3),
      (9.73, 48), (9.86, 31.1), (9.94, 19.9), (10.12, 14.3), (10.27, 3.1), (10.46, 44), (10.63, 51.9),
      (10.77, 41.8), (10.85, 22.7), (10.94, 12), (11.05, 17), (11.16, 11.5), (11.24, 8.1), (11.42, 45.1),
      (11.55, 49), (11.68, 49.6), (11.8, 34), (11.93, 29.4), (12.06, 14.3), (12.24, 11.5), (12.42, 10.4),
      (12.58, 32.8), (12.67, 37.3), (12.8, 22.7), (12.89, 5.9), (13.02, 11.5), (13.15, 9.3), (13.32, 4.8),
      (13.5, 27.2), (13.63, 36.7), (13.75, 25.5), (13.88, 9.3), (14.05, 8.1), (14.2, 6), (14.36, 2.5),
      (14.53, 28.3), (14.66, 40.1), (14.75, 36.7), (14.88, 11.5), (15.0, 8.1), (15.15, 11.5), (15.31, 4.8),
      (15.48, 39.5), (15.61, 62.5), (15.74, 59.2), (15.87, 34), (16.0, 17), (16.13, 11.5), (16.26, 1.4),
      (16.43, 36.2), (16.65, 45.7), (16.78, 34), (16.86, 5.3), (16.99, 8.7), (17.08, 16.5), (17.21, 5.9),
      (17.34, 2.2), (17.51, 39.5), (17.64, 46.8), (17.77, 31.7), (17.81, 8.1), (17.94, 38.4), (18.03, 31.7),
      (18.11, 38.7), (18.25, 28.3), (18.38, 18.2), (18.51, 34.5), (18.64, 31.7), (18.77, 23.8), (18.9, 18.2),
      (19.03, 8.7), (19.2, 1.4), (19.37, 3.1), (19.55, 31.1), (19.72, 34.5), (19.85, 22.7), (19.98, 4.8),
      (20.13, 6), (20.28, 0.8), (20.41, 4.2), (20.58, 34), (20.71, 46.8), (20.84, 28.3), (20.97, 9.3),
      (21.1, 11), (21.28, 3.1), (21.54, 34), (21.71, 45.1), (21.84, 28.3), (21.97, 10.9), (22.14, 5.9),
      (22.31, 1.4), (22.44, 15.4), (22.49, 25.5), (22.66, 38.4), (22.79, 36.2), (22.92, 14.3), (23.05, 5.9),
      (23.18, 14.3), (23.35, 40.7), (23.48, 41.8), (23.61, 34.5), (23.74, 38.7), (23.87, 35.9), (24.0, 19.6),
      (24.12, 7), (24.34, 0.8), (24.47, 17.7), (24.65, 19.9), (24.78, 34.5), (24.9, 28.3), (25.0, 37.7),
      (25.13, 37.5), (25.26, 31.4), (25.39, 35.3), (25.56, 37.5), (25.7, 38), (25.82, 40.6), (25.99, 38),
      (26.12, 35.3), (26.3, 33.6), (26.42, 30.8), (26.55, 35.3), (26.73, 35.9), (26.86, 21.3), (26.95, 10),
      (27.1, 3), (27.25, 5), (27.4, 15), (27.51, 31.4), (27.68, 37), (27.8, 31.4), (27.9, 15), (28.0, 5),
      (28.2, 2), (28.35, 4), (28.5, 15), (28.63, 30.8), (28.72, 23), (28.8, 10), (28.9, 2), (29.1, 1),
      (29.3, 3), (29.45, 15), (29.58, 32.5), (29.71, 37), (29.84, 31.4), (29.95, 15), (30.05, 3.5)]

# shaded periods, days after 09-01
shade = [(4, 7), (10, 20), (21, 24)]

c_co, c_voc, c_acn, c_mal, c_fur = '#1a9641', '#4575b4', '#d73027', '#ff7f00', '#984ea3'


def series(pts):
    d, v = zip(*pts)
    return start + pd.to_timedelta(np.array(d), unit='D'), np.array(v, dtype=float)


def style_y(ax, color, label, side='left', size=14):
    ax.tick_params(axis='y', which='both', direction='in', length=5, width=1.1,
                   pad=7, labelsize=10.5, colors=color)
    if side == 'left':
        ax.set_ylabel(label, fontsize=size, color=color)
    else:
        ax.set_ylabel(label, fontsize=size, color=color, rotation=270, va='bottom', labelpad=6)


def add_twin(ax, color, label, offset=None):
    t = ax.twinx()
    if offset is not None:
        t.spines['right'].set_position(('axes', offset))
    for s in ['top', 'bottom', 'left']:
        t.spines[s].set_visible(False)
    t.spines['right'].set_color(color)
    t.spines['right'].set_linewidth(1.3)
    style_y(t, color, label, side='right')
    return t


fig = plt.figure(figsize=(1892 / 150, 942 / 150), dpi=150)
axA = fig.add_axes([0.0661, 0.5569, 0.6736, 0.4184])
axB = fig.add_axes([0.0661, 0.0906, 0.6736, 0.4186])

lw = 2.6
xlo = start - pd.Timedelta(days=1.52)
xhi = start + pd.Timedelta(days=31.56)

for ax in (axA, axB):
    for a, b in shade:
        ax.axvspan(start + pd.Timedelta(days=a), start + pd.Timedelta(days=b), ymin=0, ymax=0.95,
                   facecolor='#d9d9d9', edgecolor='#bdbdbd', lw=1.5, zorder=0)
    for s in ax.spines.values():
        s.set_linewidth(1.3)
    ax.set_xlim(xlo, xhi)
    ax.xaxis.set_major_locator(mdates.DayLocator(bymonthday=[1, 6, 11, 16, 21, 26]))
    ax.xaxis.set_minor_locator(mdates.DayLocator())
    ax.xaxis.set_major_formatter(mdates.DateFormatter('%m-%d'))
    ax.tick_params(axis='x', which='major', direction='in', length=8, width=1.3, pad=6, labelsize=10.5)
    ax.tick_params(axis='x', which='minor', direction='in', length=4, width=1.1)

# ---- panel A ----
t, v = series(pm25)
axA.plot(t, v, color='k', lw=lw)
axA.set_ylim(0, 130)
axA.set_yticks(np.arange(0, 121, 20))
style_y(axA, 'k', 'PM$_{2.5}$ (μg m$^{-3}$)')
axA.tick_params(axis='x', labelbottom=False)
axA.text(0.01, 0.975, 'A', transform=axA.transAxes, ha='left', va='top', fontsize=16, fontweight='bold')

a_co = add_twin(axA, c_co, 'CO (ppb)')
t, v = series(co)
a_co.plot(t, v, color=c_co, lw=lw)
a_co.set_ylim(0, 958)
a_co.set_yticks(np.arange(0, 801, 200))

a_voc = add_twin(axA, c_voc, 'Total VOC (ppb)', 1.1)
t, v = series(voc)
a_voc.plot(t, v, color=c_voc, lw=lw)
a_voc.set_ylim(0, 125.9)
a_voc.set_yticks(np.arange(0, 121, 20))

a_acn = add_twin(axA, c_acn, 'Acetonitrile (ppb)', 1.2)
t, v = series(acetonitrile)
a_acn.plot(t, v, color=c_acn, lw=lw)
a_acn.set_ylim(0, 1.766)
a_acn.set_yticks(np.arange(0, 1.76, 0.25))
a_acn.yaxis.set_major_formatter(plt.FormatStrFormatter('%.2f'))

a_mal = add_twin(axA, c_mal, 'Maleic Anhydride (ppb)', 1.3)
t, v = series(maleic)
a_mal.plot(t, v, color=c_mal, lw=lw)
a_mal.set_ylim(0, 0.566)
a_mal.set_yticks(np.arange(0, 0.51, 0.1))
a_mal.yaxis.set_major_formatter(plt.FormatStrFormatter('%.1f'))

# ---- panel B ----
t, v = series(no2)
axB.plot(t, v, color='k', lw=lw)
axB.set_ylim(0, 35.6)
axB.set_yticks(np.arange(0, 36, 5))
style_y(axB, 'k', 'NO$_2$ (ppb)')
axB.set_xlabel('Date (MM-DD)', fontsize=14.5)
axB.text(0.01, 0.975, 'B', transform=axB.transAxes, ha='left', va='top', fontsize=16, fontweight='bold')

b_fur = add_twin(axB, c_fur, 'Furan (ppb)')
t, v = series(furan)
b_fur.plot(t, v, color=c_fur, lw=lw)
b_fur.set_ylim(0, 0.459)
b_fur.set_yticks(np.arange(0, 0.41, 0.1))
b_fur.yaxis.set_major_formatter(plt.FormatStrFormatter('%.1f'))

b_o3 = add_twin(axB, c_mal, 'O$_3$ (ppb)', 1.1)
t, v = series(o3)
b_o3.plot(t, v, color=c_mal, lw=lw)
b_o3.set_ylim(0, 66.3)
b_o3.set_yticks(np.arange(0, 61, 10))

axA.yaxis.set_label_coords(-0.047, 0.5)
axB.yaxis.set_label_coords(-0.047, 0.5)

fig.savefig('out.png', dpi=150)
